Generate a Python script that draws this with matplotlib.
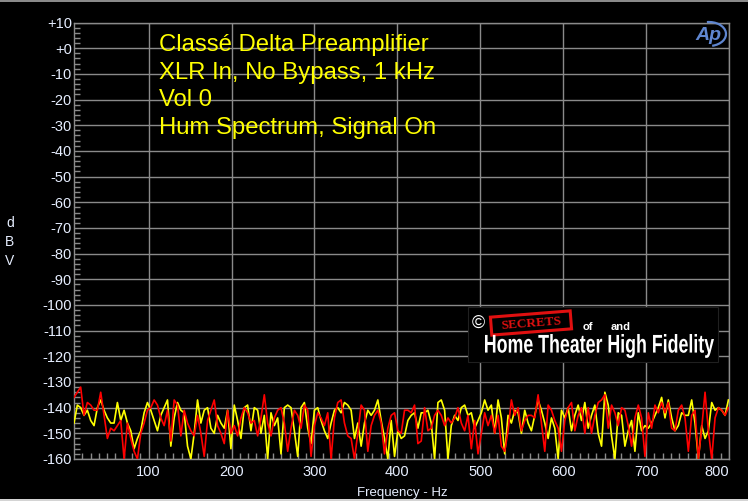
import numpy as np
import matplotlib
matplotlib.use("Agg")
import matplotlib.pyplot as plt
from matplotlib.patches import Rectangle, PathPatch, Arc, Polygon
from matplotlib.textpath import TextPath
from matplotlib.font_manager import FontProperties
from matplotlib.transforms import Affine2D

# ---------------- data ----------------
f_start = 10.0
f_step = 4.027  # Hz between readings

red_db = [
    -136, -134, -132, -143, -138, -139, -141, -141, -134, -143, -152, -148, -149, -147, -145, -160, -146,
    -152, -157, -160, -150, -146, -141, -140, -137, -139, -144, -147, -141, -153, -137, -139, -151,
    -141, -146, -149, -151, -143, -150, -159, -145, -141, -137, -147, -150, -154, -141, -150, -147, -151,
    -144, -140, -142, -146, -145, -151, -144, -135, -146, -151, -144, -141, -140, -146, -157, -148,
    -141, -143, -148, -139, -141, -159, -147, -142, -144, -147, -142, -160, -144, -138, -137, -146, -151,
    -152, -160, -150, -139, -141, -157, -147, -143, -141, -146, -158, -148, -143, -142, -149, -150,
    -141, -141, -142, -139, -154, -153, -140, -149, -148, -143, -141, -143, -147, -144, -146, -144, -140,
    -146, -149, -143, -156, -145, -158, -150, -142, -147, -143, -150, -143, -155, -157, -149, -137,
    -143, -140, -149, -145, -143, -143, -144, -135, -146, -157, -139, -141, -145, -148, -157, -145, -140,
    -138, -149, -143, -140, -150, -140, -150, -143, -138, -137, -135, -148, -139, -142, -147, -140,
    -141, -147, -155, -144, -139, -144, -159, -142, -148, -139, -142, -138, -142, -138, -148, -149, -141,
    -139, -144, -157, -143, -141, -160, -148, -134, -149, -160, -144, -140, -141, -143, -140,
]
yellow_db = [
    -146, -139, -140, -143, -141, -145, -147, -140, -137, -141, -144, -146, -146, -138, -145, -141, -146,
    -149, -156, -152, -149, -142, -138, -141, -145, -149, -143, -140, -137, -155, -144, -138, -141,
    -142, -155, -160, -150, -137, -146, -141, -140, -148, -150, -143, -146, -148, -141, -156, -139, -145,
    -152, -140, -139, -149, -140, -141, -150, -143, -160, -142, -147, -144, -158, -140, -139, -140,
    -149, -159, -140, -138, -148, -154, -141, -140, -145, -149, -152, -146, -141, -140, -142, -138, -139,
    -141, -152, -146, -155, -146, -141, -143, -141, -137, -145, -152, -160, -145, -159, -149, -152,
    -151, -145, -143, -142, -148, -142, -142, -141, -146, -160, -138, -137, -141, -160, -147, -143, -145,
    -140, -139, -143, -142, -148, -145, -142, -137, -141, -139, -150, -137, -144, -158, -143, -146,
    -141, -142, -150, -141, -146, -149, -143, -137, -141, -146, -152, -144, -148, -160, -141, -144, -140,
    -149, -143, -139, -145, -138, -148, -143, -139, -150, -155, -134, -139, -151, -160, -142, -143,
    -155, -149, -145, -157, -142, -149, -147, -148, -146, -143, -140, -136, -144, -137, -144, -149, -147,
    -142, -143, -143, -137, -146, -160, -147, -152, -149, -138, -141, -140, -141, -143, -137,
]
freq_hz = f_start + f_step * np.arange(len(red_db))

x_ticks = [100, 200, 300, 400, 500, 600, 700, 800]
y_ticks = list(range(10, -161, -10))
y_labels = ["+10", "+0"] + [str(v) for v in range(-10, -161, -10)]
title_lines = ["Classé Delta Preamplifier", "XLR In, No Bypass, 1 kHz", "Vol 0",
               "Hum Spectrum, Signal On"]

# ---------------- figure ----------------
W, H = 748, 501
fig = plt.figure(figsize=(W / 100, H / 100), dpi=100, facecolor="black")
ax = fig.add_axes([74 / W, 1 - 459 / H, (729 - 74) / W, (459 - 22.5) / H])
ax.set_facecolor("black")

grid_c = "#8a8a8a"
lab_c = "#e6eeff"
font = "Liberation Sans"

ax.plot(freq_hz, yellow_db, color="#ffff00", lw=1.2, zorder=3)
ax.plot(freq_hz, red_db, color="#ff0000", lw=1.2, zorder=3)

ax.set_xlim(10, 800)
ax.set_ylim(-160, 10)
ax.set_xticks(x_ticks)
ax.set_xticklabels([str(v) for v in x_ticks])
ax.set_yticks(y_ticks)
ax.set_yticklabels(y_labels)
ax.set_xticks(np.arange(20, 800, 10), minor=True)
ax.set_yticks(np.arange(-158, 10, 2), minor=True)
ax.grid(True, which="major", color=grid_c, lw=1.0, zorder=1)
for s in ax.spines.values():
    s.set_color(grid_c)
    s.set_linewidth(1.0)
ax.tick_params(which="both", direction="in", colors=grid_c, top=False, right=False)
ax.tick_params(which="major", length=0, labelcolor=lab_c, labelsize=10.5)
ax.tick_params(which="minor", length=4.5, width=1)
ax.tick_params(axis="x", which="major", pad=4.5)
ax.tick_params(axis="y", which="major", pad=1.5)
for t in ax.get_xticklabels() + ax.get_yticklabels():
    t.set_fontfamily(font)
xl = ax.get_xticklabels()
xl[-1].set_horizontalalignment("right")

# ---------------- overlay in pixel coordinates ----------------
ov = fig.add_axes([0, 0, 1, 1], zorder=10)
ov.set_xlim(0, W)
ov.set_ylim(H, 0)
ov.axis("off")
ov.patch.set_alpha(0)

# window borders
ov.add_patch(Rectangle((0, 0), W, 1.5, color="#8a8a8a", lw=0))
ov.add_patch(Rectangle((0, 499), W, 2, color="#d4d4d4", lw=0))

# title lines
for i, line in enumerate(title_lines):
    ov.text(159, 45 + i * 27.7, line, color="#ffff00", fontsize=17.2, family=font,
            va="center", ha="left")

# axis labels
for i, ch in enumerate("dBV"):
    ov.text(10, 223 + i * 19, ch, color=lab_c, fontsize=10, family=font, ha="center", va="center")
ov.text(402, 493, "Frequency - Hz", color=lab_c, fontsize=9.5, family=font, ha="center", va="center")

# AP logo
ap_c = "#5f86d0"
ov.text(708, 35, "Ap", color=ap_c, fontsize=14, family=font, style="italic", weight="bold",
        ha="center", va="center")
ov.add_patch(Arc((709, 34), 34, 24, theta1=-100, theta2=75, color=ap_c, lw=1.6))

# SECRETS logo
ov.add_patch(Rectangle((468, 307), 250, 55, facecolor="black", edgecolor="#202020", lw=0.8))
ov.text(478, 323, "©", color="white", fontsize=13, family=font, ha="center", va="center")
rot = Affine2D().rotate_deg_around(531, 323, -4.5)
stamp = Polygon([(491, 314), (571, 314), (571, 332), (491, 332)], closed=True,
                facecolor="none", edgecolor="#e01010", lw=2.2,
                transform=rot + ov.transData)
ov.add_patch(stamp)
ov.text(531, 323.5, "SECRETS", color="#e01010", fontsize=9.5, family="Liberation Serif",
        weight="bold", ha="center", va="center", rotation=4.5)
ov.text(583, 327, "of", color="white", fontsize=8, family=font, weight="bold", ha="left", va="center")
ov.text(611, 327, "and", color="white", fontsize=8, family=font, weight="bold", ha="left", va="center")

tp = TextPath((0, 0), "Home Theater High Fidelity", size=1,
              prop=FontProperties(family=font, weight="bold"))
bb = tp.get_extents()
x0, x1, ytop, ybot = 485, 714, 334, 358
sx = (x1 - x0) / bb.width
sy = (ybot - ytop) / bb.height
tr = Affine2D().translate(-bb.x0, -bb.y0).scale(sx, -sy).translate(x0, ybot)
ov.add_patch(PathPatch(tr.transform_path(tp), facecolor="white", edgecolor="none"))

fig.savefig("out.png", dpi=100, facecolor="black")
